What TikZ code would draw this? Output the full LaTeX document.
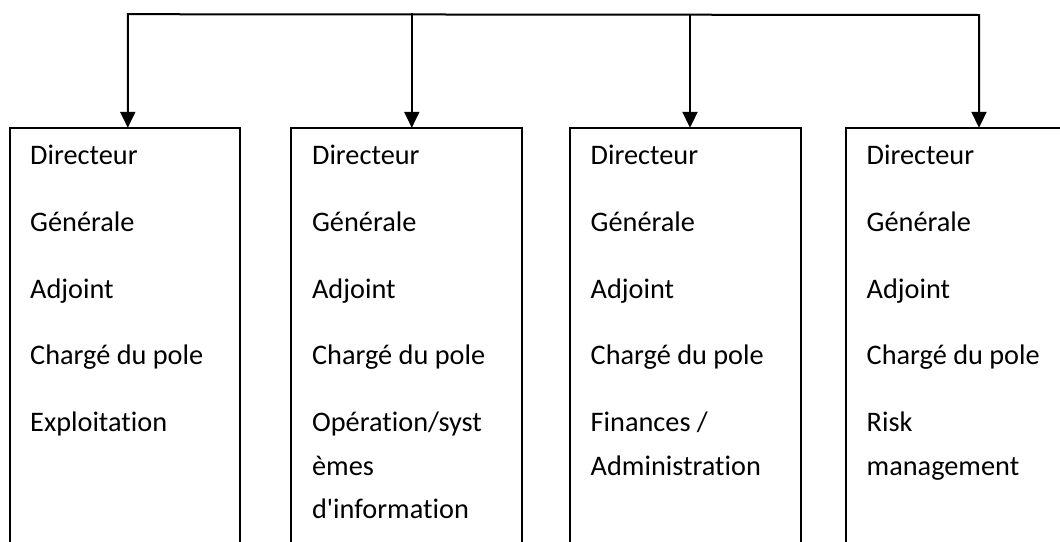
\documentclass[tikz,border=0pt]{standalone}
\usepackage{fontspec}
\setmainfont{Carlito}[Ligatures={CommonOff,TeXOff}]
\usetikzlibrary{arrows.meta}
\begin{document}
\begin{tikzpicture}[x=1pt,y=-1pt,
  orgbox/.style={draw, line width=2pt, minimum width=230.5pt, minimum height=600pt, anchor=north west, inner sep=0pt, outer sep=0pt},
  boxtext/.style={anchor=north west, align=left, inner sep=0pt, font=\fontsize{28.3}{43.5}\selectfont},
  conn/.style={line width=2pt, -{Triangle[length=16pt,width=15pt]}},
  connboth/.style={line width=2pt, {Triangle[length=16pt,width=15pt]}-{Triangle[length=16pt,width=15pt]}}
]
\clip (0,0) rectangle (1060,541);
% boxes (open at the bottom, cut by the page)
\node[orgbox] (b1) at (9.5,127.8) {};
\node[orgbox] (b2) at (291.4,127.8) {};
\node[orgbox] (b3) at (570,127.8) {};
\node[orgbox] (b4) at (846,127.8) {};
% texts
\node[boxtext] (t1) at ([xshift=20.5pt,yshift=-12.5pt]b1.north west)
  {\rule{0pt}{24pt}Directeur\\[23.3pt]Générale\\[23.3pt]Adjoint\\[23.3pt]Chargé du pole\\[23.3pt]Exploitation};
\node[boxtext] (t2) at ([xshift=20.5pt,yshift=-12.5pt]b2.north west)
  {\rule{0pt}{24pt}Directeur\\[23.3pt]Générale\\[23.3pt]Adjoint\\[23.3pt]Chargé du pole\\[23.3pt]Opération/syst\\èmes\\d'information};
\node[boxtext] (t3) at ([xshift=20.5pt,yshift=-12.5pt]b3.north west)
  {\rule{0pt}{24pt}Directeur\\[23.3pt]Générale\\[23.3pt]Adjoint\\[23.3pt]Chargé du pole\\[23.3pt]Finances /\\Administration};
\node[boxtext] (t4) at ([xshift=20.5pt,yshift=-12.5pt]b4.north west)
  {\rule{0pt}{24pt}Directeur\\[23.3pt]Générale\\[23.3pt]Adjoint\\[23.3pt]Chargé du pole\\[23.3pt]Risk\\management};
% connectors
\coordinate (j1) at (127.8,14.2);
\coordinate (j2) at (411.8,13.4);
\coordinate (j3) at (690,13.7);
\coordinate (j4) at (979,15);
\draw[connboth] (j1 |- b1.north) -- (j1) -- (j4) -- (j4 |- b4.north);
\draw[conn] (j2) -- (j2 |- b2.north);
\draw[conn] (j3) -- (j3 |- b3.north);
\end{tikzpicture}
\end{document}
